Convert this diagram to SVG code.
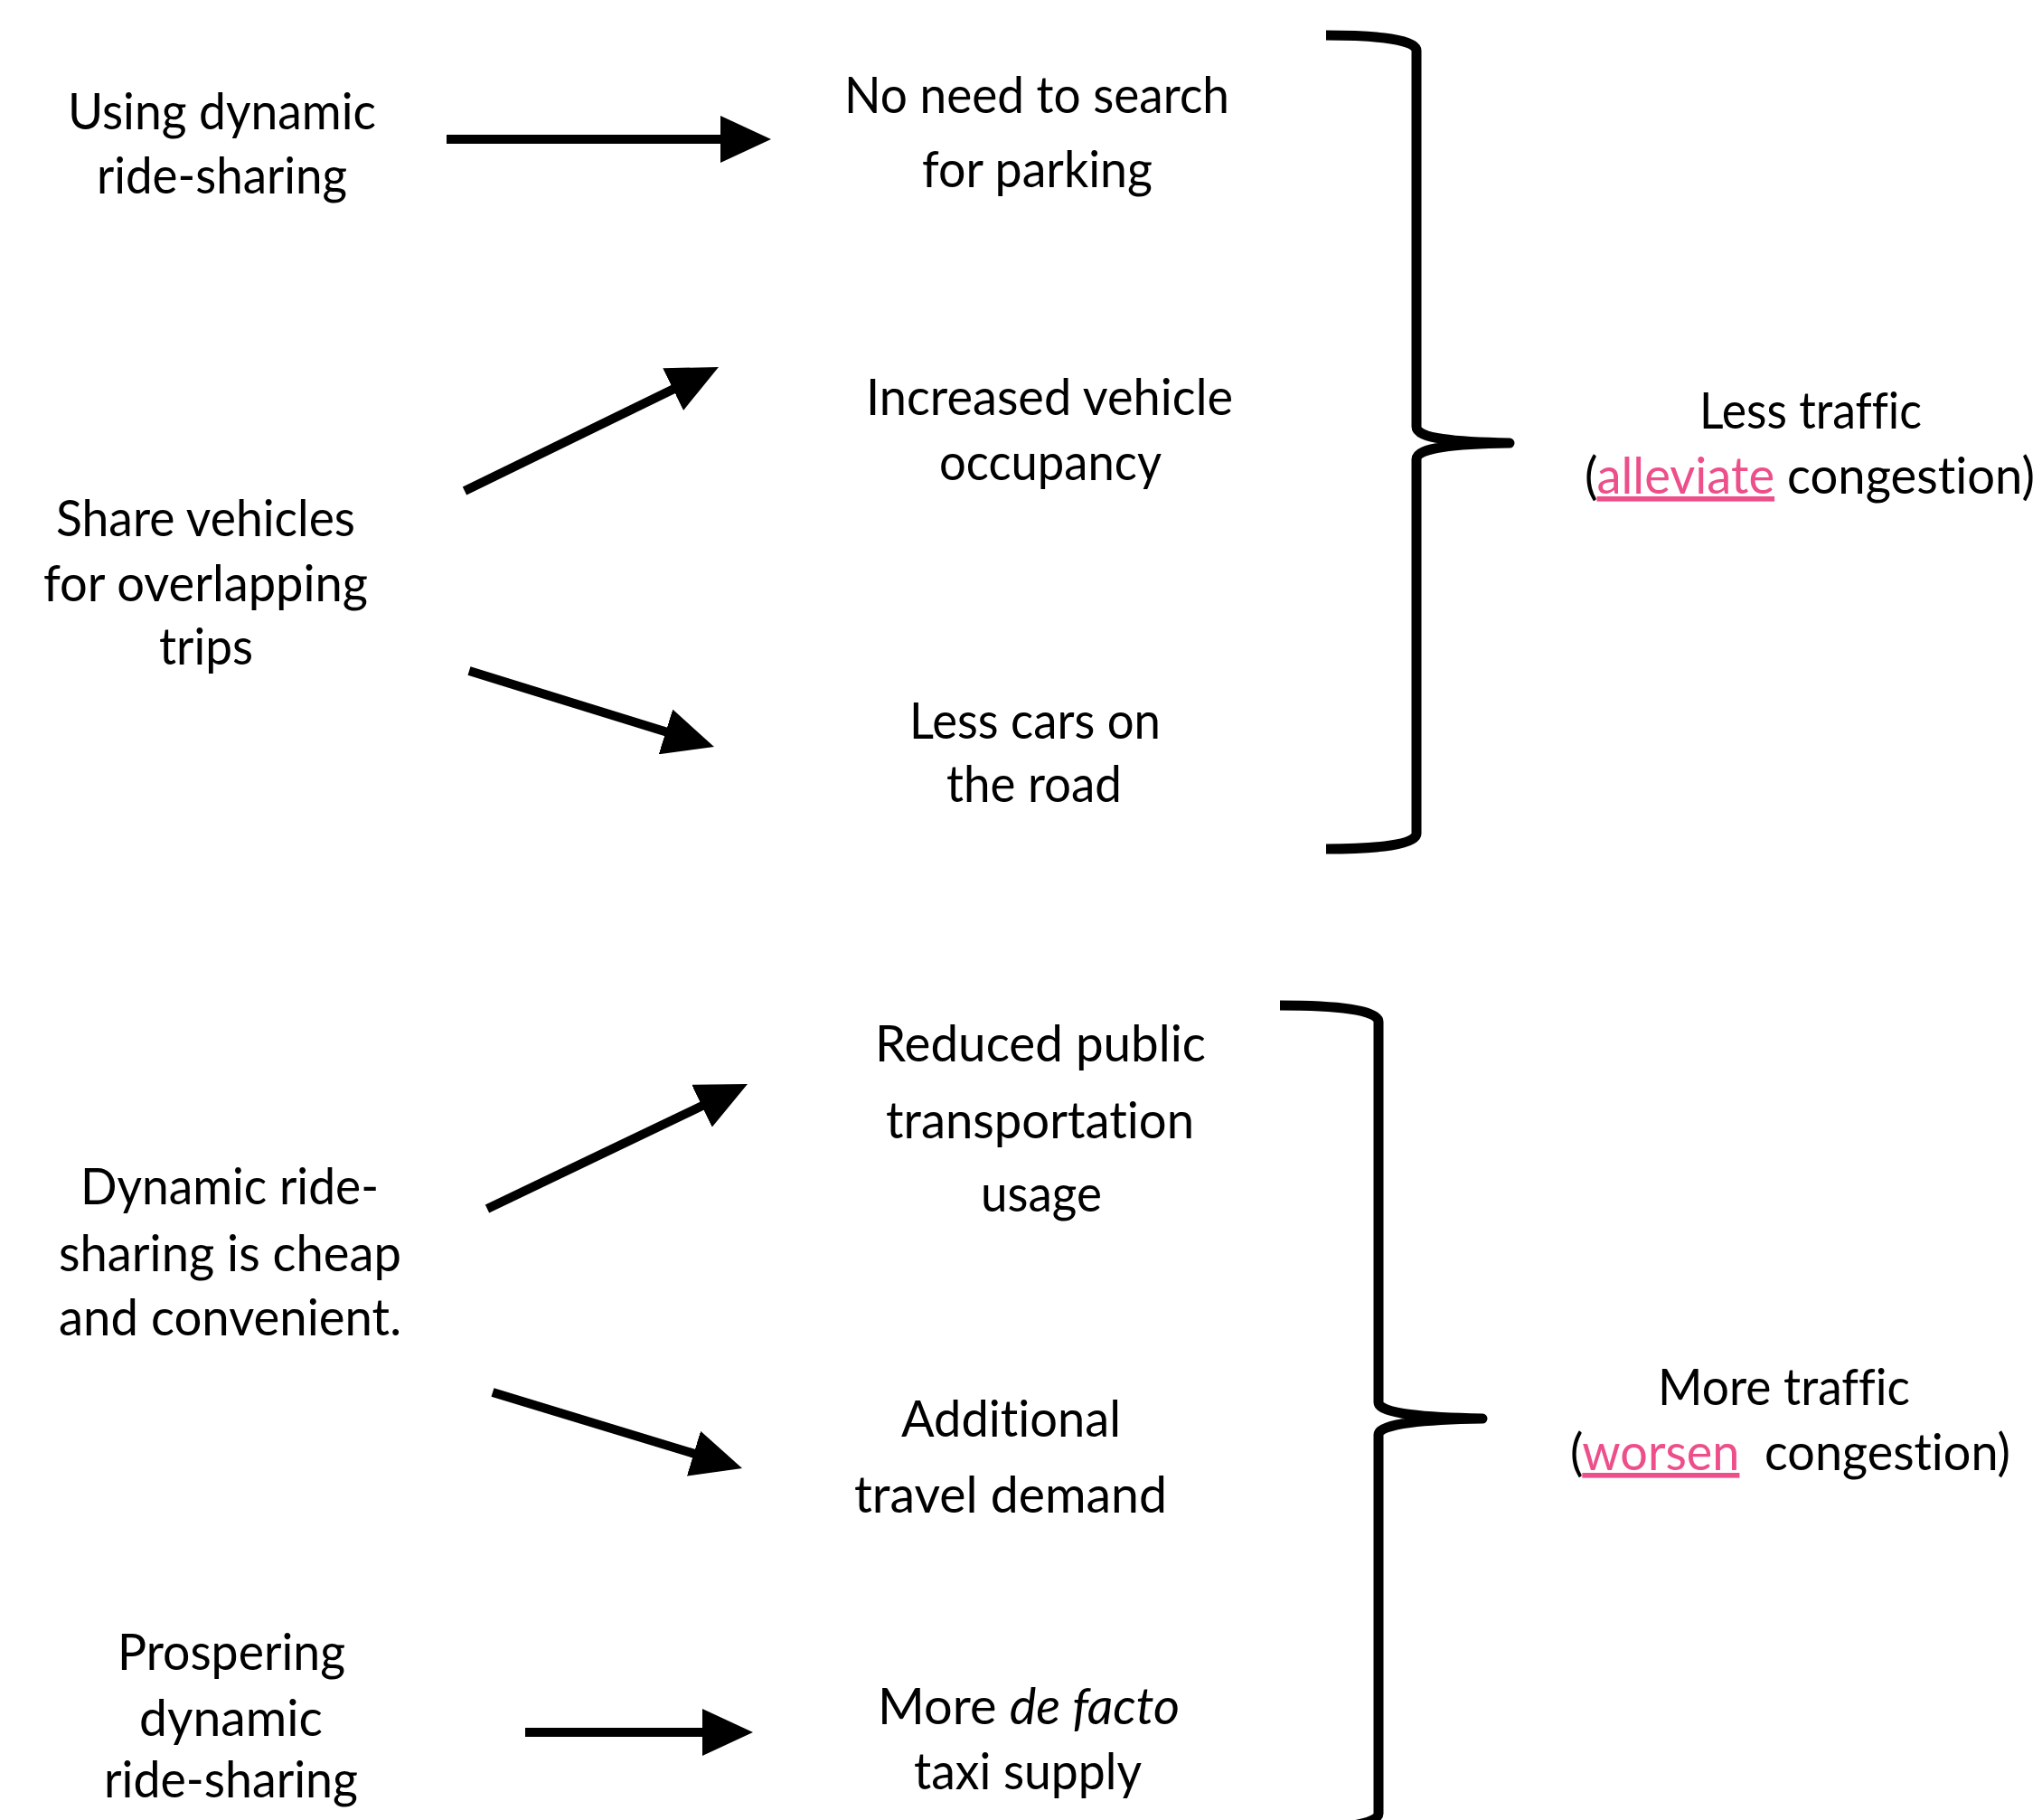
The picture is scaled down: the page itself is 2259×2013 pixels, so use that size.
<svg xmlns="http://www.w3.org/2000/svg" width="2259" height="2013" viewBox="0 0 2259 2013">
<style>
  text { font-family: "Lato", "Liberation Sans", sans-serif; font-size: 56px; fill: #000; font-variant-ligatures: no-common-ligatures; }
  .hl { fill: #EC4F8A; text-decoration: underline; }
  .it { font-style: italic; }
  .arrow { stroke: #000; stroke-width: 10; fill: none; }
  .brace { stroke: #000; stroke-width: 11; fill: none; stroke-linejoin: round; }
</style>
<defs>
  <marker id="head" markerUnits="userSpaceOnUse" markerWidth="56" markerHeight="52" refX="20" refY="26" orient="auto">
    <path d="M0,0 L56,26 L0,52 Z" fill="#000"/>
  </marker>
</defs>
<rect width="2259" height="2013" fill="#fff"/>

<g id="connectors">
  <line class="arrow" x1="494" y1="154" x2="817" y2="154" marker-end="url(#head)"/>
  <line class="arrow" x1="514" y1="543" x2="762.6" y2="421.8" marker-end="url(#head)"/>
  <line class="arrow" x1="519" y1="742" x2="755.6" y2="815.3" marker-end="url(#head)"/>
  <line class="arrow" x1="539" y1="1337" x2="794.5" y2="1214.6" marker-end="url(#head)"/>
  <line class="arrow" x1="545" y1="1540" x2="786.6" y2="1613.5" marker-end="url(#head)"/>
  <line class="arrow" x1="581" y1="1916" x2="797" y2="1916" marker-end="url(#head)"/>
</g>

<g id="brace-less">
  <path class="brace" d="M1467,39 C1525,39 1567,44 1567,56 L1567,472 C1567,485 1610,489 1670,490 C1610,491 1567,495 1567,508 L1567,922 C1567,934 1525,939 1467,939"/>
</g>
<g id="brace-more">
  <path class="brace" d="M1416,1112 C1478,1112 1525,1117 1525,1130 L1525,1551 C1525,1564 1580,1568 1640,1569 C1580,1570 1525,1574 1525,1587 L1525,2006 C1525,2018 1478,2024 1416,2024"/>
</g>

<g id="n-using">
  <text x="75" y="143" textLength="341" lengthAdjust="spacingAndGlyphs">Using dynamic</text>
  <text x="107" y="214" textLength="277" lengthAdjust="spacingAndGlyphs">ride-sharing</text>
</g>
<g id="n-share">
  <text x="62" y="593" textLength="331" lengthAdjust="spacingAndGlyphs">Share vehicles</text>
  <text x="48" y="665" textLength="359" lengthAdjust="spacingAndGlyphs">for overlapping</text>
  <text x="176" y="735" textLength="104" lengthAdjust="spacingAndGlyphs">trips</text>
</g>
<g id="n-cheap">
  <text x="89" y="1332" textLength="330" lengthAdjust="spacingAndGlyphs">Dynamic ride-</text>
  <text x="65" y="1406" textLength="379" lengthAdjust="spacingAndGlyphs">sharing is cheap</text>
  <text x="65" y="1477" textLength="379" lengthAdjust="spacingAndGlyphs">and convenient.</text>
</g>
<g id="n-prosper">
  <text x="130" y="1847" textLength="252" lengthAdjust="spacingAndGlyphs">Prospering</text>
  <text x="154" y="1920" textLength="203" lengthAdjust="spacingAndGlyphs">dynamic</text>
  <text x="115" y="1988" textLength="281" lengthAdjust="spacingAndGlyphs">ride-sharing</text>
</g>

<g id="n-parking">
  <text x="934" y="125" textLength="426" lengthAdjust="spacingAndGlyphs">No need to search</text>
  <text x="1020" y="207" textLength="255" lengthAdjust="spacingAndGlyphs">for parking</text>
</g>
<g id="n-occupancy">
  <text x="958" y="459" textLength="406" lengthAdjust="spacingAndGlyphs">Increased vehicle</text>
  <text x="1039" y="531" textLength="246" lengthAdjust="spacingAndGlyphs">occupancy</text>
</g>
<g id="n-lesscars">
  <text x="1006" y="817" textLength="278" lengthAdjust="spacingAndGlyphs">Less cars on</text>
  <text x="1047" y="887" textLength="194" lengthAdjust="spacingAndGlyphs">the road</text>
</g>
<g id="n-public">
  <text x="968" y="1174" textLength="366" lengthAdjust="spacingAndGlyphs">Reduced public</text>
  <text x="980" y="1259" textLength="341" lengthAdjust="spacingAndGlyphs">transportation</text>
  <text x="1085" y="1340" textLength="134" lengthAdjust="spacingAndGlyphs">usage</text>
</g>
<g id="n-demand">
  <text x="997" y="1589" textLength="243" lengthAdjust="spacingAndGlyphs">Additional</text>
  <text x="945" y="1673" textLength="346" lengthAdjust="spacingAndGlyphs">travel demand</text>
</g>
<g id="n-taxi">
  <text x="971" y="1907" textLength="334" lengthAdjust="spacingAndGlyphs">More <tspan class="it">de facto</tspan></text>
  <text x="1011" y="1979" textLength="252" lengthAdjust="spacingAndGlyphs">taxi supply</text>
</g>

<g id="n-lesstraffic">
  <text x="1880" y="474" textLength="246" lengthAdjust="spacingAndGlyphs">Less traffic</text>
  <text x="1753" y="546" textLength="498" lengthAdjust="spacingAndGlyphs">(<tspan class="hl">alleviate</tspan> congestion)</text>
</g>
<g id="n-moretraffic">
  <text x="1834" y="1554" textLength="279" lengthAdjust="spacingAndGlyphs">More traffic</text>
  <text x="1737" y="1626" textLength="487" lengthAdjust="spacingAndGlyphs">(<tspan class="hl">worsen</tspan>&#160; congestion)</text>
</g>
</svg>
